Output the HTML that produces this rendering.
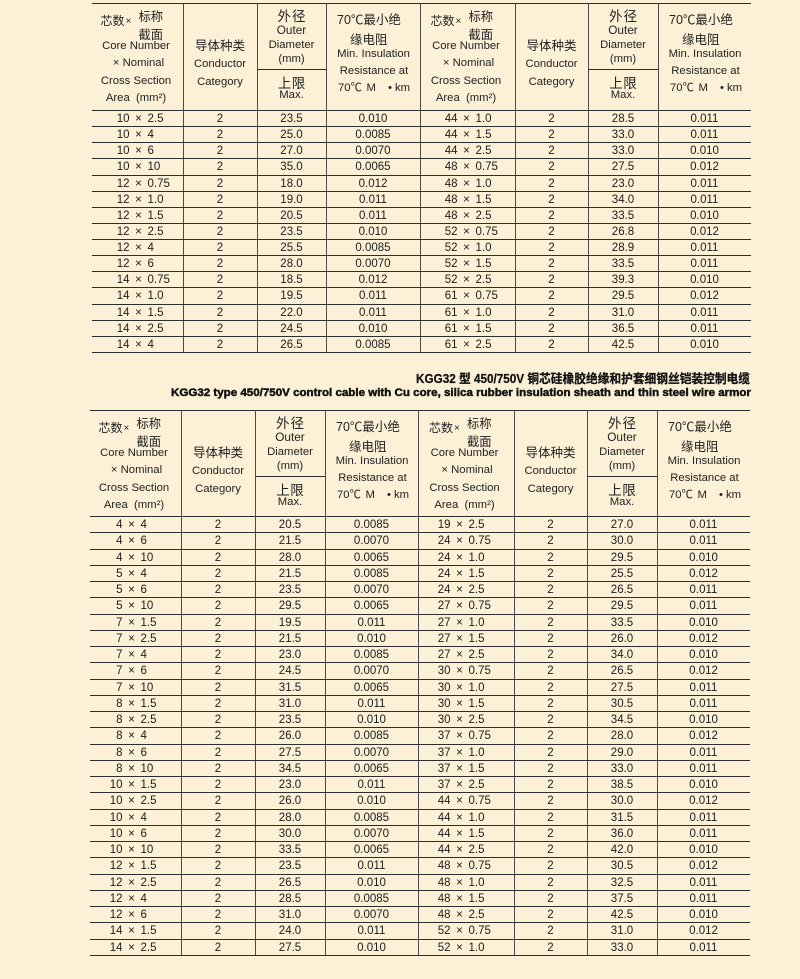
<!DOCTYPE html>
<html><head><meta charset="utf-8">
<style>
html,body{margin:0;padding:0;background:#fcf0d6;}
#p{position:relative;width:800px;height:979px;overflow:hidden;background:#fcf0d6;font-family:"Liberation Sans","Noto Sans CJK SC",sans-serif;color:#1c1c1c;}
.h{position:absolute;height:1px;background:#2e2e2e}
.v{position:absolute;width:1px;background:#4a4a4a}
.rows{position:absolute}
.r{display:grid;box-sizing:border-box;border-bottom:1px solid #2e2e2e;font-size:11.5px;line-height:16px;}
.t1 .r{height:16.133px;grid-template-columns:91px 74px 69px 94px 95px 73px 70px 93px}
.t2 .r{height:16.259px;grid-template-columns:91px 74px 70px 93px 96px 73px 70px 93px}
.r>span{text-align:center;white-space:nowrap;overflow:visible}
.r>span.n{text-align:left}
.n i{display:inline-block;text-align:right;font-style:normal}
.n b{display:inline-block;width:18px;text-align:center;font-weight:normal}
.t1 .n i{width:37.5px}
.t2 .n i{width:32.5px}
.hd{position:absolute;height:106px;color:#222}
.c{position:absolute;top:0;height:106px}
.c span{position:absolute;height:16px;line-height:16px;white-space:nowrap;font-size:11.3px}
.c .m{left:0;width:100%;text-align:center}
.s1{left:calc(50% - 37px);top:9px;font-size:12px!important}
.s2{left:calc(50% - 12px);top:10px;font-size:10px!important}
.s3{left:calc(50% + 1px);top:4.5px;font-size:12.3px!important}
.s4{left:calc(50% + 1px);top:23px;font-size:12.3px!important}
.c .s5{top:34px;left:-1.5px}
.c .s6{top:51.3px;left:1px}
.c .s7{top:68.8px;left:-1.5px}
.c .s8{top:85.5px;left:-1.5px}
.c .d1{top:34px;font-size:12.5px}
.c .d2{top:52px}
.c .d3{top:69.5px}
.c .e1{top:4.7px;font-size:13.5px;letter-spacing:1px;text-indent:1px}
.c .e2{top:17.7px;font-size:11.8px}
.c .e3{top:32.5px}
.c .e4{top:47px}
.c .e5{top:72px;font-size:13.5px;letter-spacing:0.5px;text-indent:0.5px}
.c .e6{top:83px}
.f1{left:11px;top:8.3px;font-size:12.5px!important}
.f2{left:24px;top:28px;font-size:12.5px!important}
.c .f3{top:41.7px;left:0.5px}
.c .f4{top:59px;left:1px}
.f5{left:12px;top:75.6px}
.f6{left:40.5px;top:75.6px}
.f7{left:62px;top:75.6px}
.f8{left:69px;top:75.6px}
svg{position:absolute;left:0;top:0}
</style></head>
<body><div id="p">

<!-- ===== TABLE 1 lines ===== -->
<div class="h" style="left:92px;top:3px;width:659px"></div>
<div class="h" style="left:92px;top:110px;width:659px"></div>
<div class="h" style="left:257px;top:69px;width:70px"></div>
<div class="h" style="left:588px;top:69px;width:70px"></div>
<div class="v" style="left:183px;top:3px;height:350px"></div>
<div class="v" style="left:257px;top:3px;height:350px"></div>
<div class="v" style="left:326px;top:3px;height:350px"></div>
<div class="v" style="left:420px;top:3px;height:350px"></div>
<div class="v" style="left:515px;top:3px;height:350px"></div>
<div class="v" style="left:588px;top:3px;height:350px"></div>
<div class="v" style="left:658px;top:3px;height:350px"></div>

<!-- ===== TABLE 1 header ===== -->
<div class="hd" style="left:92px;top:4px;width:659px">
  <div class="c" style="left:0;width:91px">
    <span class="s1">芯数</span><span class="s2">×</span><span class="s3">标称</span><span class="s4">截面</span>
    <span class="m s5">Core Number</span><span class="m s6">× Nominal</span><span class="m s7">Cross Section</span><span class="m s8">Area&nbsp; (mm²)</span>
  </div>
  <div class="c" style="left:91px;width:74px">
    <span class="m d1">导体种类</span><span class="m d2">Conductor</span><span class="m d3">Category</span>
  </div>
  <div class="c" style="left:165px;width:69px">
    <span class="m e1">外径</span><span class="m e2">Outer</span><span class="m e3">Diameter</span><span class="m e4">(mm)</span><span class="m e5">上限</span><span class="m e6">Max.</span>
  </div>
  <div class="c" style="left:234px;width:94px">
    <span class="f1">70℃最小绝</span><span class="f2">缘电阻</span><span class="m f3">Min. Insulation</span><span class="m f4">Resistance at</span>
    <span class="f5">70℃</span><span class="f6">M</span><span class="f7">•</span><span class="f8">km</span>
  </div>
  <div class="c" style="left:328px;width:95px">
    <span class="s1">芯数</span><span class="s2">×</span><span class="s3">标称</span><span class="s4">截面</span>
    <span class="m s5">Core Number</span><span class="m s6">× Nominal</span><span class="m s7">Cross Section</span><span class="m s8">Area&nbsp; (mm²)</span>
  </div>
  <div class="c" style="left:423px;width:73px">
    <span class="m d1">导体种类</span><span class="m d2">Conductor</span><span class="m d3">Category</span>
  </div>
  <div class="c" style="left:496px;width:70px">
    <span class="m e1">外径</span><span class="m e2">Outer</span><span class="m e3">Diameter</span><span class="m e4">(mm)</span><span class="m e5">上限</span><span class="m e6">Max.</span>
  </div>
  <div class="c" style="left:566px;width:93px">
    <span class="f1">70℃最小绝</span><span class="f2">缘电阻</span><span class="m f3">Min. Insulation</span><span class="m f4">Resistance at</span>
    <span class="f5">70℃</span><span class="f6">M</span><span class="f7">•</span><span class="f8">km</span>
  </div>
</div>

<!-- ===== TABLE 1 rows ===== -->
<div class="rows t1" style="left:92px;top:111px;width:659px">
<div class="r"><span class="n"><i>10</i><b>×</b>2.5</span><span>2</span><span>23.5</span><span>0.010</span><span class="n"><i>44</i><b>×</b>1.0</span><span>2</span><span>28.5</span><span>0.011</span></div>
<div class="r"><span class="n"><i>10</i><b>×</b>4</span><span>2</span><span>25.0</span><span>0.0085</span><span class="n"><i>44</i><b>×</b>1.5</span><span>2</span><span>33.0</span><span>0.011</span></div>
<div class="r"><span class="n"><i>10</i><b>×</b>6</span><span>2</span><span>27.0</span><span>0.0070</span><span class="n"><i>44</i><b>×</b>2.5</span><span>2</span><span>33.0</span><span>0.010</span></div>
<div class="r"><span class="n"><i>10</i><b>×</b>10</span><span>2</span><span>35.0</span><span>0.0065</span><span class="n"><i>48</i><b>×</b>0.75</span><span>2</span><span>27.5</span><span>0.012</span></div>
<div class="r"><span class="n"><i>12</i><b>×</b>0.75</span><span>2</span><span>18.0</span><span>0.012</span><span class="n"><i>48</i><b>×</b>1.0</span><span>2</span><span>23.0</span><span>0.011</span></div>
<div class="r"><span class="n"><i>12</i><b>×</b>1.0</span><span>2</span><span>19.0</span><span>0.011</span><span class="n"><i>48</i><b>×</b>1.5</span><span>2</span><span>34.0</span><span>0.011</span></div>
<div class="r"><span class="n"><i>12</i><b>×</b>1.5</span><span>2</span><span>20.5</span><span>0.011</span><span class="n"><i>48</i><b>×</b>2.5</span><span>2</span><span>33.5</span><span>0.010</span></div>
<div class="r"><span class="n"><i>12</i><b>×</b>2.5</span><span>2</span><span>23.5</span><span>0.010</span><span class="n"><i>52</i><b>×</b>0.75</span><span>2</span><span>26.8</span><span>0.012</span></div>
<div class="r"><span class="n"><i>12</i><b>×</b>4</span><span>2</span><span>25.5</span><span>0.0085</span><span class="n"><i>52</i><b>×</b>1.0</span><span>2</span><span>28.9</span><span>0.011</span></div>
<div class="r"><span class="n"><i>12</i><b>×</b>6</span><span>2</span><span>28.0</span><span>0.0070</span><span class="n"><i>52</i><b>×</b>1.5</span><span>2</span><span>33.5</span><span>0.011</span></div>
<div class="r"><span class="n"><i>14</i><b>×</b>0.75</span><span>2</span><span>18.5</span><span>0.012</span><span class="n"><i>52</i><b>×</b>2.5</span><span>2</span><span>39.3</span><span>0.010</span></div>
<div class="r"><span class="n"><i>14</i><b>×</b>1.0</span><span>2</span><span>19.5</span><span>0.011</span><span class="n"><i>61</i><b>×</b>0.75</span><span>2</span><span>29.5</span><span>0.012</span></div>
<div class="r"><span class="n"><i>14</i><b>×</b>1.5</span><span>2</span><span>22.0</span><span>0.011</span><span class="n"><i>61</i><b>×</b>1.0</span><span>2</span><span>31.0</span><span>0.011</span></div>
<div class="r"><span class="n"><i>14</i><b>×</b>2.5</span><span>2</span><span>24.5</span><span>0.010</span><span class="n"><i>61</i><b>×</b>1.5</span><span>2</span><span>36.5</span><span>0.011</span></div>
<div class="r"><span class="n"><i>14</i><b>×</b>4</span><span>2</span><span>26.5</span><span>0.0085</span><span class="n"><i>61</i><b>×</b>2.5</span><span>2</span><span>42.5</span><span>0.010</span></div>
</div>

<!-- ===== Title ===== -->
<svg width="800" height="979" viewBox="0 0 800 979">
  <text x="416" y="383" font-family="Liberation Sans, Noto Sans CJK SC, sans-serif" font-size="12.5" font-weight="bold" fill="#111" stroke="#111" stroke-width="0.25" textLength="334" lengthAdjust="spacingAndGlyphs">KGG32 型 450/750V 铜芯硅橡胶绝缘和护套细钢丝铠装控制电缆</text>
  <text x="171" y="396" font-family="Liberation Sans, sans-serif" font-size="11" font-weight="bold" fill="#111" stroke="#111" stroke-width="0.45" textLength="580" lengthAdjust="spacingAndGlyphs">KGG32 type 450/750V control cable with Cu core, silica rubber insulation sheath and thin steel wire armor</text>
</svg>

<!-- ===== TABLE 2 lines ===== -->
<div class="h" style="left:90px;top:410px;width:660px"></div>
<div class="h" style="left:90px;top:516px;width:660px"></div>
<div class="h" style="left:255px;top:476px;width:71px"></div>
<div class="h" style="left:587px;top:476px;width:70px"></div>
<div class="v" style="left:181px;top:410px;height:546px"></div>
<div class="v" style="left:255px;top:410px;height:546px"></div>
<div class="v" style="left:325px;top:410px;height:546px"></div>
<div class="v" style="left:418px;top:410px;height:546px"></div>
<div class="v" style="left:514px;top:410px;height:546px"></div>
<div class="v" style="left:587px;top:410px;height:546px"></div>
<div class="v" style="left:657px;top:410px;height:546px"></div>

<!-- ===== TABLE 2 header ===== -->
<div class="hd" style="left:90px;top:411px;width:660px">
  <div class="c" style="left:0;width:91px">
    <span class="s1">芯数</span><span class="s2">×</span><span class="s3">标称</span><span class="s4">截面</span>
    <span class="m s5">Core Number</span><span class="m s6">× Nominal</span><span class="m s7">Cross Section</span><span class="m s8">Area&nbsp; (mm²)</span>
  </div>
  <div class="c" style="left:91px;width:74px">
    <span class="m d1">导体种类</span><span class="m d2">Conductor</span><span class="m d3">Category</span>
  </div>
  <div class="c" style="left:165px;width:70px">
    <span class="m e1">外径</span><span class="m e2">Outer</span><span class="m e3">Diameter</span><span class="m e4">(mm)</span><span class="m e5">上限</span><span class="m e6">Max.</span>
  </div>
  <div class="c" style="left:235px;width:93px">
    <span class="f1">70℃最小绝</span><span class="f2">缘电阻</span><span class="m f3">Min. Insulation</span><span class="m f4">Resistance at</span>
    <span class="f5">70℃</span><span class="f6">M</span><span class="f7">•</span><span class="f8">km</span>
  </div>
  <div class="c" style="left:328px;width:96px">
    <span class="s1">芯数</span><span class="s2">×</span><span class="s3">标称</span><span class="s4">截面</span>
    <span class="m s5">Core Number</span><span class="m s6">× Nominal</span><span class="m s7">Cross Section</span><span class="m s8">Area&nbsp; (mm²)</span>
  </div>
  <div class="c" style="left:424px;width:73px">
    <span class="m d1">导体种类</span><span class="m d2">Conductor</span><span class="m d3">Category</span>
  </div>
  <div class="c" style="left:497px;width:70px">
    <span class="m e1">外径</span><span class="m e2">Outer</span><span class="m e3">Diameter</span><span class="m e4">(mm)</span><span class="m e5">上限</span><span class="m e6">Max.</span>
  </div>
  <div class="c" style="left:567px;width:93px">
    <span class="f1">70℃最小绝</span><span class="f2">缘电阻</span><span class="m f3">Min. Insulation</span><span class="m f4">Resistance at</span>
    <span class="f5">70℃</span><span class="f6">M</span><span class="f7">•</span><span class="f8">km</span>
  </div>
</div>

<!-- ===== TABLE 2 rows ===== -->
<div class="rows t2" style="left:90px;top:517px;width:660px">
<div class="r"><span class="n"><i>4</i><b>×</b>4</span><span>2</span><span>20.5</span><span>0.0085</span><span class="n"><i>19</i><b>×</b>2.5</span><span>2</span><span>27.0</span><span>0.011</span></div>
<div class="r"><span class="n"><i>4</i><b>×</b>6</span><span>2</span><span>21.5</span><span>0.0070</span><span class="n"><i>24</i><b>×</b>0.75</span><span>2</span><span>30.0</span><span>0.011</span></div>
<div class="r"><span class="n"><i>4</i><b>×</b>10</span><span>2</span><span>28.0</span><span>0.0065</span><span class="n"><i>24</i><b>×</b>1.0</span><span>2</span><span>29.5</span><span>0.010</span></div>
<div class="r"><span class="n"><i>5</i><b>×</b>4</span><span>2</span><span>21.5</span><span>0.0085</span><span class="n"><i>24</i><b>×</b>1.5</span><span>2</span><span>25.5</span><span>0.012</span></div>
<div class="r"><span class="n"><i>5</i><b>×</b>6</span><span>2</span><span>23.5</span><span>0.0070</span><span class="n"><i>24</i><b>×</b>2.5</span><span>2</span><span>26.5</span><span>0.011</span></div>
<div class="r"><span class="n"><i>5</i><b>×</b>10</span><span>2</span><span>29.5</span><span>0.0065</span><span class="n"><i>27</i><b>×</b>0.75</span><span>2</span><span>29.5</span><span>0.011</span></div>
<div class="r"><span class="n"><i>7</i><b>×</b>1.5</span><span>2</span><span>19.5</span><span>0.011</span><span class="n"><i>27</i><b>×</b>1.0</span><span>2</span><span>33.5</span><span>0.010</span></div>
<div class="r"><span class="n"><i>7</i><b>×</b>2.5</span><span>2</span><span>21.5</span><span>0.010</span><span class="n"><i>27</i><b>×</b>1.5</span><span>2</span><span>26.0</span><span>0.012</span></div>
<div class="r"><span class="n"><i>7</i><b>×</b>4</span><span>2</span><span>23.0</span><span>0.0085</span><span class="n"><i>27</i><b>×</b>2.5</span><span>2</span><span>34.0</span><span>0.010</span></div>
<div class="r"><span class="n"><i>7</i><b>×</b>6</span><span>2</span><span>24.5</span><span>0.0070</span><span class="n"><i>30</i><b>×</b>0.75</span><span>2</span><span>26.5</span><span>0.012</span></div>
<div class="r"><span class="n"><i>7</i><b>×</b>10</span><span>2</span><span>31.5</span><span>0.0065</span><span class="n"><i>30</i><b>×</b>1.0</span><span>2</span><span>27.5</span><span>0.011</span></div>
<div class="r"><span class="n"><i>8</i><b>×</b>1.5</span><span>2</span><span>31.0</span><span>0.011</span><span class="n"><i>30</i><b>×</b>1.5</span><span>2</span><span>30.5</span><span>0.011</span></div>
<div class="r"><span class="n"><i>8</i><b>×</b>2.5</span><span>2</span><span>23.5</span><span>0.010</span><span class="n"><i>30</i><b>×</b>2.5</span><span>2</span><span>34.5</span><span>0.010</span></div>
<div class="r"><span class="n"><i>8</i><b>×</b>4</span><span>2</span><span>26.0</span><span>0.0085</span><span class="n"><i>37</i><b>×</b>0.75</span><span>2</span><span>28.0</span><span>0.012</span></div>
<div class="r"><span class="n"><i>8</i><b>×</b>6</span><span>2</span><span>27.5</span><span>0.0070</span><span class="n"><i>37</i><b>×</b>1.0</span><span>2</span><span>29.0</span><span>0.011</span></div>
<div class="r"><span class="n"><i>8</i><b>×</b>10</span><span>2</span><span>34.5</span><span>0.0065</span><span class="n"><i>37</i><b>×</b>1.5</span><span>2</span><span>33.0</span><span>0.011</span></div>
<div class="r"><span class="n"><i>10</i><b>×</b>1.5</span><span>2</span><span>23.0</span><span>0.011</span><span class="n"><i>37</i><b>×</b>2.5</span><span>2</span><span>38.5</span><span>0.010</span></div>
<div class="r"><span class="n"><i>10</i><b>×</b>2.5</span><span>2</span><span>26.0</span><span>0.010</span><span class="n"><i>44</i><b>×</b>0.75</span><span>2</span><span>30.0</span><span>0.012</span></div>
<div class="r"><span class="n"><i>10</i><b>×</b>4</span><span>2</span><span>28.0</span><span>0.0085</span><span class="n"><i>44</i><b>×</b>1.0</span><span>2</span><span>31.5</span><span>0.011</span></div>
<div class="r"><span class="n"><i>10</i><b>×</b>6</span><span>2</span><span>30.0</span><span>0.0070</span><span class="n"><i>44</i><b>×</b>1.5</span><span>2</span><span>36.0</span><span>0.011</span></div>
<div class="r"><span class="n"><i>10</i><b>×</b>10</span><span>2</span><span>33.5</span><span>0.0065</span><span class="n"><i>44</i><b>×</b>2.5</span><span>2</span><span>42.0</span><span>0.010</span></div>
<div class="r"><span class="n"><i>12</i><b>×</b>1.5</span><span>2</span><span>23.5</span><span>0.011</span><span class="n"><i>48</i><b>×</b>0.75</span><span>2</span><span>30.5</span><span>0.012</span></div>
<div class="r"><span class="n"><i>12</i><b>×</b>2.5</span><span>2</span><span>26.5</span><span>0.010</span><span class="n"><i>48</i><b>×</b>1.0</span><span>2</span><span>32.5</span><span>0.011</span></div>
<div class="r"><span class="n"><i>12</i><b>×</b>4</span><span>2</span><span>28.5</span><span>0.0085</span><span class="n"><i>48</i><b>×</b>1.5</span><span>2</span><span>37.5</span><span>0.011</span></div>
<div class="r"><span class="n"><i>12</i><b>×</b>6</span><span>2</span><span>31.0</span><span>0.0070</span><span class="n"><i>48</i><b>×</b>2.5</span><span>2</span><span>42.5</span><span>0.010</span></div>
<div class="r"><span class="n"><i>14</i><b>×</b>1.5</span><span>2</span><span>24.0</span><span>0.011</span><span class="n"><i>52</i><b>×</b>0.75</span><span>2</span><span>31.0</span><span>0.012</span></div>
<div class="r"><span class="n"><i>14</i><b>×</b>2.5</span><span>2</span><span>27.5</span><span>0.010</span><span class="n"><i>52</i><b>×</b>1.0</span><span>2</span><span>33.0</span><span>0.011</span></div>
</div>

</div></body></html>
